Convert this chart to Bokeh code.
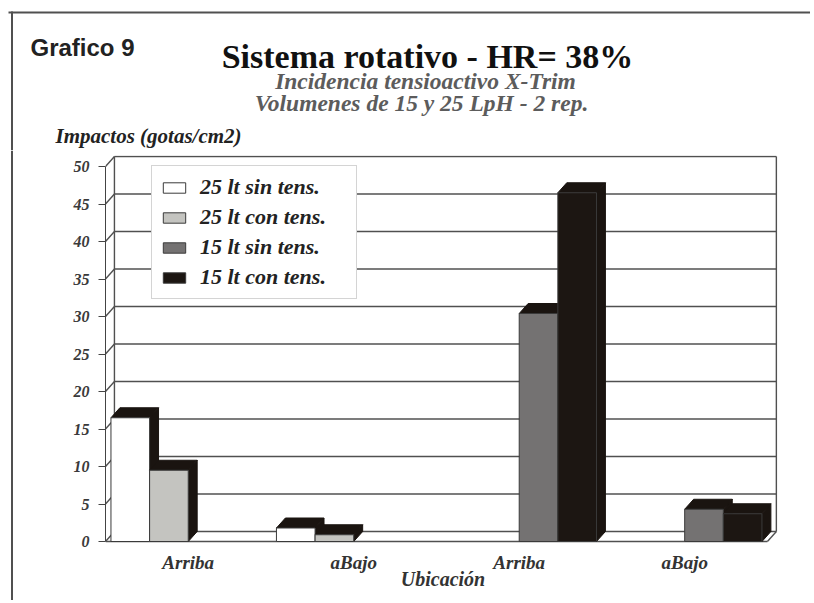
from bokeh.plotting import figure
from bokeh.layouts import column, row
from bokeh.models import Range1d, FixedTicker, Legend, LegendItem
from bokeh.core.properties import value
from bokeh.embed import file_html
from bokeh.resources import INLINE
import numpy as np

# ---------------- data ----------------
categories = ["Arriba", "aBajo", "Arriba", "aBajo"]
series_names = ["25 lt sin tens.", "25 lt con tens.", "15 lt sin tens.", "15 lt con tens."]
s25_sin = [16.5, 1.8, 0.0, 0.0]
s25_con = [9.5, 0.9, 0.0, 0.0]
s15_sin = [0.0, 0.0, 30.4, 4.3]
s15_con = [0.0, 0.0, 46.5, 3.7]
y_ticks = [0, 5, 10, 15, 20, 25, 30, 35, 40, 45, 50]

title_text = "Sistema rotativo - HR= 38%"
subtitle1 = "Incidencia tensioactivo X-Trim"
subtitle2 = "Volumenes de 15 y 25 LpH - 2 rep."
chart_tag = "Grafico 9"
y_label = "Impactos (gotas/cm2)"
x_label = "Ubicación"

series = [s25_sin, s25_con, s15_sin, s15_con]
colors = ["#ffffff", "#c4c4c0", "#747272", "#1c1612"]
dark = "#1a1410"
frame_c = "#505050"

serif = "Liberation Serif"

# ---------------- page geometry ----------------
W = 810
H = 600
top_h = 150
strip_w = 14

# ---------------- header figure (titles) ----------------
top = figure(width=W, height=top_h, output_backend="svg", toolbar_location=None,
             x_range=Range1d(0, W), y_range=Range1d(top_h, 0),
             x_axis_location=None, y_axis_location=None, min_border=0)
top.outline_line_color = None
top.grid.visible = False
top.frame_align = False

top.line([8, W], [12, 12], line_color=frame_c, line_width=2)
top.line([11.5, 11.5], [11, top_h], line_color=frame_c, line_width=2)


def header_text(x, y, txt, font, style, size, color, align):
    top.text(x=[x], y=[y], text=[txt], text_font=value(font),
             text_font_style=value(style), text_font_size=value(size),
             text_color=value(color), text_align=value(align),
             text_baseline=value("alphabetic"))


header_text(30, 46.5, chart_tag, "Liberation Sans", "bold", "24px", "#222222", "left")
header_text(427, 55.5, title_text, serif, "bold", "34px", "#111111", "center")
header_text(425, 80.5, subtitle1, serif, "bold italic", "23.5px", "#5c5c5c", "center")
header_text(421, 102.5, subtitle2, serif, "bold italic", "23.5px", "#5c5c5c", "center")
header_text(55, 135.5, y_label, serif, "bold italic", "21px", "#222222", "left")

# ---------------- left strip (outer frame line) ----------------
strip = figure(width=strip_w, height=H - top_h, output_backend="svg", toolbar_location=None,
               x_range=Range1d(0, strip_w), y_range=Range1d(H - top_h, 0),
               x_axis_location=None, y_axis_location=None, min_border=0)
strip.outline_line_color = None
strip.grid.visible = False
strip.frame_align = False
strip.line([11.5, 11.5], [0, H - top_h], line_color=frame_c, line_width=2)

# ---------------- main chart ----------------
dx = 0.054     # depth offset (category units)
dy = 1.333     # depth offset (value units)
offset = 0.033
bw = 0.2335
ncat = len(categories)

p = figure(width=W - strip_w, height=H - top_h, output_backend="svg", toolbar_location=None,
           x_range=Range1d(0, 4.079), y_range=Range1d(-0.4, 51.467),
           min_border_left=91, min_border_right=30, min_border_top=5, min_border_bottom=56)
p.outline_line_color = None
p.xgrid.visible = False
p.ygrid.visible = False
p.frame_align = False

ya = p.yaxis[0]
ya.ticker = FixedTicker(ticks=y_ticks)
ya.bounds = (y_ticks[0], y_ticks[-1])
ya.major_label_text_font = serif
ya.major_label_text_font_style = "bold italic"
ya.major_label_text_font_size = "16px"
ya.major_label_text_color = "#3a3a3a"
ya.major_tick_in = 0
ya.major_tick_out = 7
ya.major_tick_line_color = "#444444"
ya.minor_tick_line_color = None
ya.axis_line_color = "#444444"
ya.major_label_standoff = 9

xa = p.xaxis[0]
tick_pos = [i + 0.5 for i in range(ncat)]
xa.ticker = FixedTicker(ticks=tick_pos)
xa.major_label_overrides = {t: c for t, c in zip(tick_pos, categories)}
xa.major_label_text_font = serif
xa.major_label_text_font_style = "bold italic"
xa.major_label_text_font_size = "19px"
xa.major_label_text_color = "#333333"
xa.major_tick_line_color = None
xa.minor_tick_line_color = None
xa.axis_line_color = None
xa.major_label_standoff = 1
xa.axis_label = x_label
xa.axis_label_text_font = serif
xa.axis_label_text_font_style = "bold italic"
xa.axis_label_text_font_size = "20px"
xa.axis_label_text_color = "#333333"
xa.axis_label_standoff = -8

grid_c = "#505050"
p.multi_line([[dx, ncat + dx] for t in y_ticks], [[t + dy, t + dy] for t in y_ticks],
             line_color=grid_c, line_width=1.4)
p.multi_line([[0, dx] for t in y_ticks], [[t, t + dy] for t in y_ticks],
             line_color=grid_c, line_width=1.4)
p.multi_line([[dx, dx], [ncat + dx, ncat + dx], [0, ncat], [ncat, ncat + dx]],
             [[dy, y_ticks[-1] + dy], [dy, y_ticks[-1] + dy], [0, 0], [0, dy]],
             line_color=grid_c, line_width=1.4)

legend_items = []
for k, vals in enumerate(series):
    v = np.array(vals, dtype=float)
    x0 = np.arange(ncat) + offset + k * bw
    x1 = x0 + bw
    m = v > 0
    side_xs = [[a, a + dx, a + dx, a] for a in x1[m]]
    side_ys = [[0, dy, h + dy, h] for h in v[m]]
    top_xs = [[a, a + dx, b + dx, b] for a, b in zip(x0[m], x1[m])]
    top_ys = [[h, h + dy, h + dy, h] for h in v[m]]
    p.patches(side_xs + top_xs, side_ys + top_ys, fill_color=dark, line_color=dark, line_width=1)
    r = p.quad(left=x0[m], right=x1[m], bottom=0, top=v[m],
               fill_color=colors[k], line_color="#3a3a3a", line_width=1)
    legend_items.append(LegendItem(label=series_names[k], renderers=[r]))

legend = Legend(items=legend_items, location=(46, 245), margin=0, padding=8,
                spacing=4, glyph_width=28, glyph_height=13, label_height=20,
                label_width=148, label_standoff=12,
                label_text_font=serif, label_text_font_style="bold italic",
                label_text_font_size="22px", label_text_color="#222222",
                border_line_color="#aaaaaa", border_line_width=1,
                background_fill_color="white", background_fill_alpha=1)
p.add_layout(legend, "center")

layout = column(top, row(strip, p))
open("out.html", "w").write(file_html(layout, INLINE))
